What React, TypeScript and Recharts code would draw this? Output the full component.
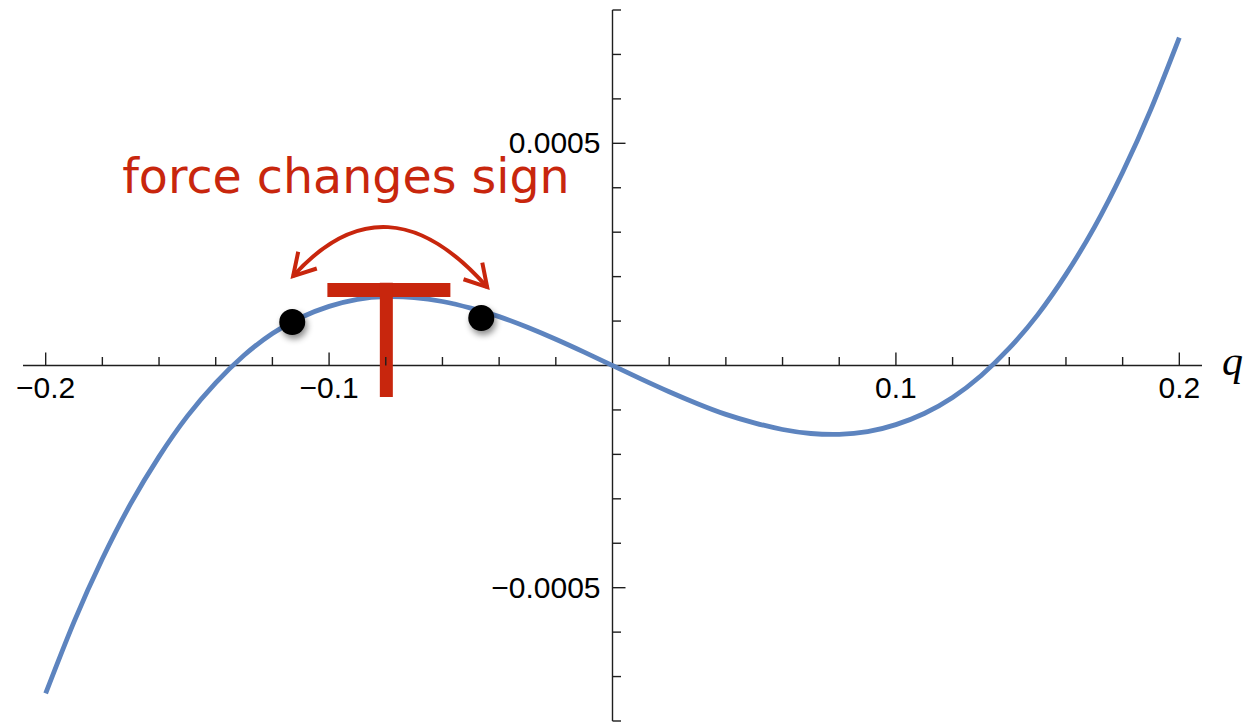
import React from 'react';
import {
    ComposedChart, Line, Scatter, XAxis, YAxis, ReferenceLine, ReferenceDot
} from 'recharts';

// sampled force curve F(q)
const Q = [
    -0.2, -0.19, -0.18, -0.17, -0.16, -0.15, -0.14, -0.13, -0.12, -0.11, -0.1,
    -0.09, -0.08, -0.07, -0.06, -0.05, -0.04, -0.03, -0.02, -0.01, 0,
    0.01, 0.02, 0.03, 0.04, 0.05, 0.06, 0.07, 0.08, 0.09, 0.1,
    0.11, 0.12, 0.13, 0.14, 0.15, 0.16, 0.17, 0.18, 0.19, 0.2,
];
const F = [
    -0.000738, -0.000577, -0.000435, -0.000311, -0.000205, -0.000114, -0.000039, 0.000023, 0.000072, 0.000108, 0.000133,
    0.000149, 0.000155, 0.000153, 0.000144, 0.000129, 0.00011, 0.000086, 0.000059, 0.00003, 0,
    -0.00003, -0.000059, -0.000086, -0.00011, -0.000129, -0.000144, -0.000153, -0.000155, -0.000149, -0.000133,
    -0.000108, -0.000072, -0.000023, 0.000039, 0.000114, 0.000205, 0.000311, 0.000435, 0.000577, 0.000738,
];

// the two black points either side of the hump
const DOT_Q = [-0.113, -0.0463];
const DOT_F = [0.000098, 0.000107];

// top of the hump, used to hang the annotation
const PEAK_Q = -0.0774;
const PEAK_F = 0.000155;

// the "T" marker
const T_LEFT = -0.1006;
const T_RIGHT = -0.0572;
const T_BAR_F = 0.00017;
const T_STEM_Q = -0.0798;
const T_TOP_F = 0.000186;
const T_FOOT_F = -0.000071;

const X_TICKS = [
    -0.2, -0.18, -0.16, -0.14, -0.12, -0.1, -0.08, -0.06, -0.04, -0.02,
    0.02, 0.04, 0.06, 0.08, 0.1, 0.12, 0.14, 0.16, 0.18, 0.2,
];
const X_MAJOR = [-0.2, -0.1, 0.1, 0.2];
const X_LABELS = ['\u22120.2', '\u22120.1', '0.1', '0.2'];

const Y_TICKS = [
    -0.0008, -0.0007, -0.0006, -0.0005, -0.0004, -0.0003, -0.0002, -0.0001,
    0.0001, 0.0002, 0.0003, 0.0004, 0.0005, 0.0006, 0.0007, 0.0008,
];
const Y_MAJOR = [0.0005, -0.0005];
const Y_LABELS = ['0.0005', '\u22120.0005'];

const NOTE = 'force changes sign';
const AXIS_NAME = 'q';

const CURVE = Q.map((q, i) => ({ q, f: F[i] }));
const DOTS = DOT_Q.map((q, i) => ({ q, f: DOT_F[i] }));

const BLUE = '#5d84bf';
const RED = '#c8260d';
const INK = '#1e1e1e';
const LABEL_FONT = '"Liberation Sans", Arial, sans-serif';

const XTickMark = ({ cx, cy, value }: any) => {
    const idx = X_MAJOR.indexOf(value);
    const len = idx >= 0 ? 13 : 8.5;
    return (
        <g>
            <line x1={cx} x2={cx} y1={cy} y2={cy - len} stroke={INK} strokeWidth={1.4} />
            {idx >= 0 && (
                <text x={cx} y={cy + 32} textAnchor="middle" fontSize={30} fontFamily={LABEL_FONT} fill="#000">
                    {X_LABELS[idx]}
                </text>
            )}
        </g>
    );
};

const YTickMark = ({ cx, cy, value }: any) => {
    const idx = Y_MAJOR.indexOf(value);
    const len = idx >= 0 ? 13 : 8.5;
    return (
        <g>
            <line x1={cx} x2={cx + len} y1={cy} y2={cy} stroke={INK} strokeWidth={1.4} />
            {idx >= 0 && (
                <text x={cx - 12} y={cy + 10} textAnchor="end" fontSize={30} fontFamily={LABEL_FONT} fill="#000">
                    {Y_LABELS[idx]}
                </text>
            )}
        </g>
    );
};

const AxisName = ({ cx, cy }: any) => (
    <text x={cx + 20} y={cy + 9} fontSize={42} fontStyle="italic"
          fontFamily='"Liberation Serif", "Times New Roman", serif' fill="#000">
        {AXIS_NAME}
    </text>
);

const ShadowDot = ({ cx, cy }: any) => (
    <g>
        <defs>
            <filter id="dotShadow" x="-50%" y="-50%" width="200%" height="200%">
                <feDropShadow dx={2} dy={4} stdDeviation={3} floodColor="#000" floodOpacity={0.45} />
            </filter>
        </defs>
        <circle cx={cx} cy={cy} r={13} fill="#000" filter="url(#dotShadow)" />
    </g>
);

// curved double arrow and caption above the hump
const SignNote = ({ cx, cy }: any) => {
    const x0 = cx - 100, y0 = cy - 20.5;
    const x1 = cx + 94, y1 = cy - 9.5;
    const xc = cx - 7, yc = cy - 124;
    return (
        <g>
            <defs>
                <marker id="chev" viewBox="0 0 40 40" refX={30} refY={20}
                        markerWidth={40} markerHeight={40} markerUnits="userSpaceOnUse"
                        orient="auto-start-reverse">
                    <path d="M 8.5 7.5 L 30 20 L 8.5 32.5" fill="none" stroke={RED} strokeWidth={4} />
                </marker>
            </defs>
            <path d={`M ${x0} ${y0} Q ${xc} ${yc} ${x1} ${y1}`} fill="none" stroke={RED} strokeWidth={4}
                  markerStart="url(#chev)" markerEnd="url(#chev)" />
            <text x={cx - 271} y={cy - 104} fontSize={47.5} fill={RED}
                  fontFamily='"DejaVu Sans", Verdana, sans-serif'>
                {NOTE}
            </text>
        </g>
    );
};

export default function App() {
    return (
        <div style={{ position: 'absolute', left: 0, top: 0, width: 1247, height: 725, background: '#fff' }}>
            <ComposedChart width={1247} height={725} data={CURVE}
                           margin={{ top: 10, right: 45, bottom: 4, left: 23 }}>
                <XAxis dataKey="q" type="number" domain={[-0.208, 0.208]} allowDataOverflow hide />
                <YAxis type="number" domain={[-0.0008, 0.0008]} allowDataOverflow hide />

                <ReferenceLine y={0} stroke={INK} strokeWidth={1.4} ifOverflow="visible" />
                <ReferenceLine x={0} stroke={INK} strokeWidth={1.4} ifOverflow="visible" />

                {X_TICKS.map((t) => (
                    <ReferenceDot key={`xt-${t}`} x={t} y={0} r={0} ifOverflow="visible"
                                  shape={(p: any) => <XTickMark {...p} value={t} />} />
                ))}
                {Y_TICKS.map((t) => (
                    <ReferenceDot key={`yt-${t}`} x={0} y={t} r={0} ifOverflow="visible"
                                  shape={(p: any) => <YTickMark {...p} value={t} />} />
                ))}
                <ReferenceDot x={0.208} y={0} r={0} ifOverflow="visible" shape={(p: any) => <AxisName {...p} />} />

                <Line dataKey="f" type="natural" stroke={BLUE} strokeWidth={4.8} dot={false}
                      activeDot={false} isAnimationActive={false} />

                <ReferenceLine segment={[{ x: T_LEFT, y: T_BAR_F }, { x: T_RIGHT, y: T_BAR_F }]}
                               stroke={RED} strokeWidth={14} ifOverflow="visible" />
                <ReferenceLine segment={[{ x: T_STEM_Q, y: T_TOP_F }, { x: T_STEM_Q, y: T_FOOT_F }]}
                               stroke={RED} strokeWidth={13} ifOverflow="visible" />

                <Scatter data={DOTS} dataKey="f" shape={(p: any) => <ShadowDot {...p} />}
                         isAnimationActive={false} />

                <ReferenceDot x={PEAK_Q} y={PEAK_F} r={0} ifOverflow="visible"
                              shape={(p: any) => <SignNote {...p} />} />
            </ComposedChart>
        </div>
    );
}
